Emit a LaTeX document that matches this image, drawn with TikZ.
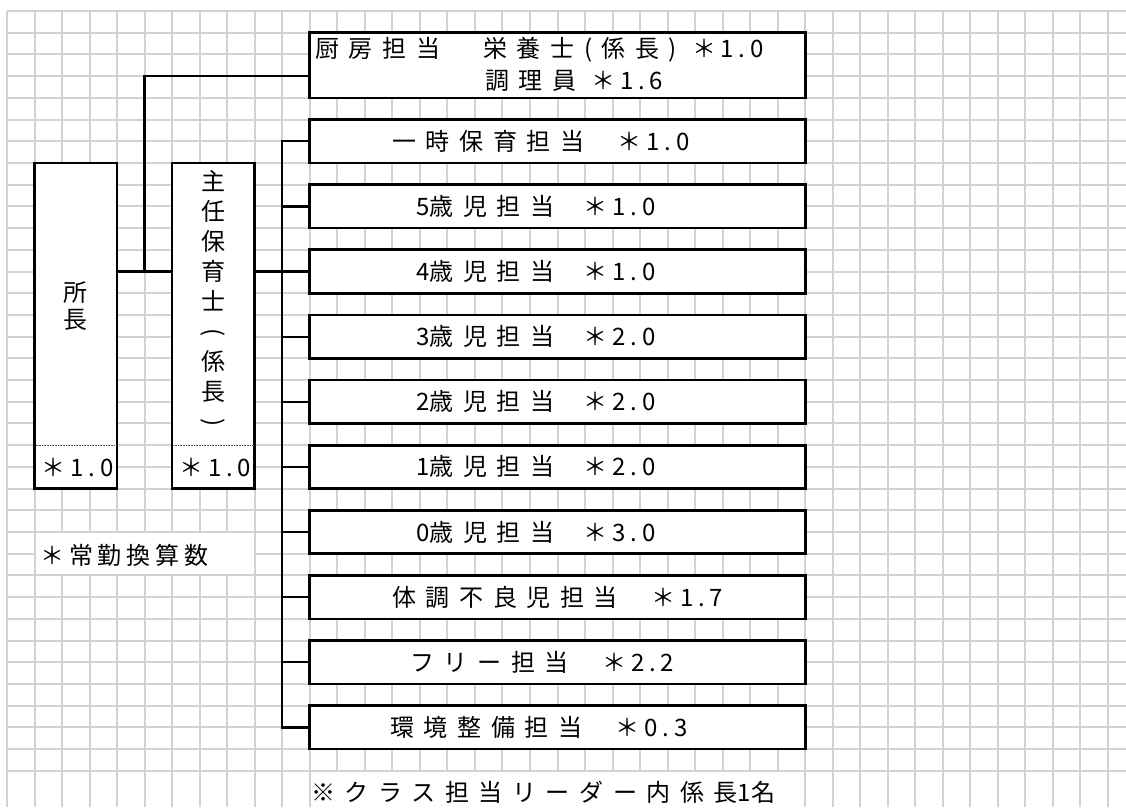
\documentclass[tikz,border=0pt]{standalone}
\usepackage{fontspec}
\usepackage{graphicx}
\setmainfont{Noto Sans CJK JP}
\newfontfamily\jp{Noto Sans CJK JP}
\newfontfamily\jps{Noto Sans CJK JP}[LetterSpace=40]
\newfontfamily\jpn{Noto Sans CJK JP}[LetterSpace=20]
\newcommand\nm[1]{{\jpn ＊#1}}
\newcommand\dg[1]{{\jpn #1}}
\newcommand\vparl{\rotatebox[origin=c]{-90}{(}}
\newcommand\vparr{\rotatebox[origin=c]{-90}{)}}
\usetikzlibrary{fit,calc}
\definecolor{gridgray}{RGB}{210,210,210}
\begin{document}
\begin{tikzpicture}[x=0.75pt,y=-0.75pt,
  declare function={gx(\k)=7+27.525*\k; gy(\k)=11+21.71*\k;},
  gridline/.style={draw=gridgray,line width=1.5pt},
  box/.style={draw=black,line width=2pt,fill=white,inner sep=0pt,outer sep=0pt},
  cell/.style={fill=white,draw=none,inner sep=0pt,outer sep=0pt},
  conn/.style={draw=black,line width=1.7pt},
  divider/.style={draw=black!70,line width=0.6pt,dash pattern=on 0.6pt off 0.6pt},
  lbl/.style={inner sep=0pt,anchor=west,font=\jps\fontsize{18}{22}\selectfont},
  clbl/.style={inner sep=0pt,font=\jps\fontsize{18}{22}\selectfont},
  vlbl/.style={inner sep=0pt,align=center,font=\jp\fontsize{18}{#1}\selectfont},
]
\useasboundingbox (0,0) rectangle (1126,807);
\fill[white] (0,0) rectangle (1126,807);
% grid
\foreach \k in {0,...,40} \draw[gridline] ({gx(\k)},{gy(0)}) -- ({gx(\k)},807);
\foreach \k in {0,...,35} \draw[gridline] ({gx(0)},{gy(\k)}) -- (1126,{gy(\k)});
% white text cells
\node[cell,fit={({gx(1)+1},{gy(24)+1}) ({gx(9)-1},{gy(26)-1})}] (noteAcell) {};
\node[cell,fit={({gx(11)+1},{gy(35)+1}) ({gx(29)-1},808)}] (noteBcell) {};
% boxes
\node[box,fit={({gx(1)},{gy(7)}) ({gx(4)},{gy(22)})}] (shocho) {};
\node[box,fit={({gx(6)},{gy(7)}) ({gx(9)},{gy(22)})}] (shunin) {};
\node[box,fit={({gx(11)},{gy(1)}) ({gx(29)},{gy(4)})}] (chubo) {};
\foreach \i in {1,...,10}{
  \pgfmathtruncatemacro\t{5+3*(\i-1)}
  \pgfmathtruncatemacro\bb{\t+2}
  \node[box,fit={({gx(11)},{gy(\t)}) ({gx(29)},{gy(\bb)})}] (b\i) {};
}
% dotted dividers
\draw[divider] ({gx(1)+1},{gy(20)}) -- ({gx(4)-1},{gy(20)});
\draw[divider] ({gx(6)+1},{gy(20)}) -- ({gx(9)-1},{gy(20)});
% connectors
\coordinate (j) at ({gx(5)},{gy(12)});
\coordinate (kj) at ({gx(5)},{gy(3)});
\coordinate (bus) at ({gx(10)},{gy(12)});
\draw[conn] (shocho.east |- j) -- (shunin.west |- j);
\draw[conn] (j) -- (kj) -- (kj -| chubo.west);
\draw[conn] (shunin.east |- bus) -- (bus);
\draw[conn] (b1.west) -- (b1.west -| bus) -- (b10.west -| bus) -- (b10.west);
\foreach \i in {2,...,9} \draw[conn] (b\i.west -| bus) -- (b\i.west);
% labels
\node[vlbl=20.25] (shochoT) at ({(gx(1)+gx(4))/2},306) {所\\長};
\node[vlbl=22.5] (shuninT) at ({(gx(6)+gx(9))/2},300) {主\\任\\保\\育\\士\\\vparl\\係\\長\\\vparr};
\node[clbl] (shochoN) at ({(gx(1)+gx(4))/2+2},467) {\nm{1.0}};
\node[clbl] (shuninN) at ({(gx(6)+gx(9))/2+2},467) {\nm{1.0}};
\node[lbl] (c1) at (315,50) {厨房担当　栄養士(係長) \nm{1.0}};
\node[lbl] (c2) at (485,81) {調理員 \nm{1.6}};
\node[lbl] (l1) at (392,{gy(6)}) {一時保育担当　\nm{1.0}};
\node[lbl] (l2) at (416,{gy(9)}) {\dg{5}歳児担当\kern4pt　\nm{1.0}};
\node[lbl] (l3) at (416,{gy(12)}) {\dg{4}歳児担当\kern4pt　\nm{1.0}};
\node[lbl] (l4) at (416,{gy(15)}) {\dg{3}歳児担当\kern4pt　\nm{2.0}};
\node[lbl] (l5) at (416,{gy(18)}) {\dg{2}歳児担当\kern4pt　\nm{2.0}};
\node[lbl] (l6) at (416,{gy(21)}) {\dg{1}歳児担当\kern4pt　\nm{2.0}};
\node[lbl] (l7) at (416,{gy(24)}) {\dg{0}歳児担当\kern4pt　\nm{3.0}};
\node[lbl] (l8) at (392,{gy(27)}) {体調不良児担当　\nm{1.7}};
\node[lbl] (l9) at (410,{gy(30)}) {フリー担当　\nm{2.2}};
\node[lbl] (l10) at (390,{gy(33)}) {環境整備担当　\nm{0.3}};
\node[lbl,font=\jpn\fontsize{18}{22}\selectfont] (noteA) at (40,555) {＊常勤換算数};
\node[lbl] (noteB) at (311,792) {※クラス担当リーダー内係長\dg{1}名};
\end{tikzpicture}
\end{document}
